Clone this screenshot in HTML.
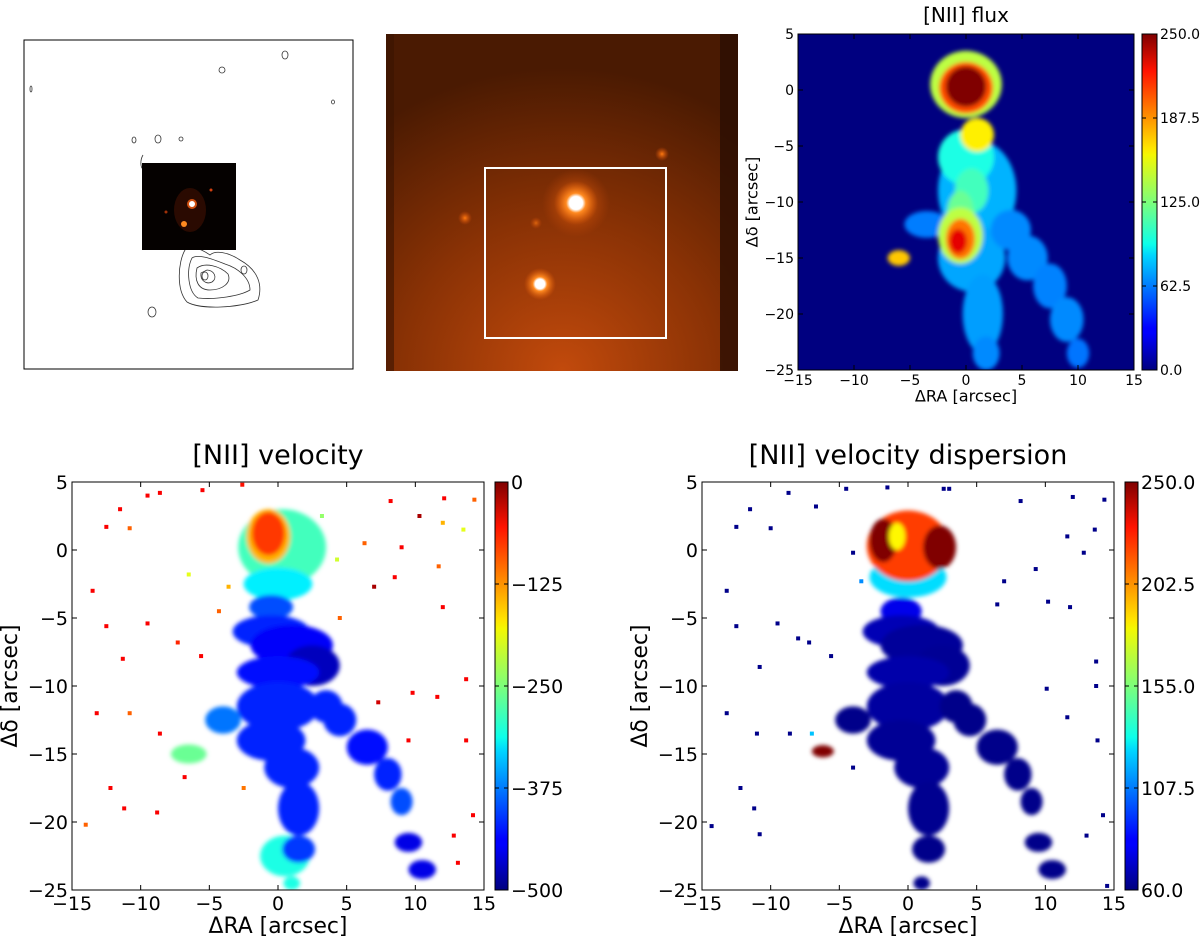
<!DOCTYPE html>
<html><head><meta charset="utf-8"><style>
body{margin:0;background:#fff;}
svg{display:block;font-family:"DejaVu Sans","Liberation Sans",sans-serif;}
</style></head><body>
<svg id="fig" width="1200" height="944" viewBox="0 0 1200 944" xmlns="http://www.w3.org/2000/svg">
<defs>
<linearGradient id="jet" x1="0" y1="1" x2="0" y2="0">
<stop offset="0" stop-color="#00007f"/><stop offset="0.11" stop-color="#0000ff"/><stop offset="0.125" stop-color="#0000ff"/>
<stop offset="0.34" stop-color="#00d4ff"/><stop offset="0.375" stop-color="#0dffea"/><stop offset="0.5" stop-color="#7dff7a"/>
<stop offset="0.64" stop-color="#f4f802"/><stop offset="0.66" stop-color="#ffe600"/><stop offset="0.89" stop-color="#ff1300"/>
<stop offset="1" stop-color="#7f0000"/></linearGradient>
<radialGradient id="mbg" cx="0.5" cy="1" r="0.9"><stop offset="0" stop-color="#c24a0c"/><stop offset="0.5" stop-color="#8a3205"/><stop offset="1" stop-color="#4a1a02"/></radialGradient>
<radialGradient id="star" cx="0.5" cy="0.5" r="0.5"><stop offset="0" stop-color="#fff"/><stop offset="0.3" stop-color="#fff"/><stop offset="0.45" stop-color="#ff8a20"/><stop offset="1" stop-color="#e05a08" stop-opacity="0"/></radialGradient>
<radialGradient id="glow" cx="0.5" cy="0.5" r="0.5"><stop offset="0" stop-color="#ff7a10"/><stop offset="1" stop-color="#d04a08" stop-opacity="0"/></radialGradient>
<filter id="bl" x="-20%" y="-20%" width="140%" height="140%"><feGaussianBlur stdDeviation="2.2"/></filter>
</defs>

<g>
<rect x="24" y="40" width="329" height="329" fill="#fff" stroke="#000" stroke-width="1"/>
<g fill="none" stroke="#333" stroke-width="0.8">
<ellipse cx="285" cy="55" rx="3" ry="4"/><ellipse cx="222" cy="70" rx="3" ry="3"/><ellipse cx="31" cy="89" rx="1" ry="3"/>
<ellipse cx="333" cy="102" rx="1.5" ry="2"/><ellipse cx="134" cy="140" rx="2" ry="3"/><ellipse cx="158" cy="139" rx="3" ry="4"/><ellipse cx="181" cy="139" rx="2" ry="2"/>
<ellipse cx="152" cy="312" rx="4" ry="5"/>
<path d="M185 250 C178 262 176 290 187 302 C200 310 240 308 258 300 C263 285 258 270 240 260 C228 252 215 250 210 255 C200 248 190 245 185 250Z"/>
<path d="M192 258 C186 270 188 292 198 298 C215 300 240 296 250 290 C250 278 238 268 225 264 C210 258 198 254 192 258Z"/>
<path d="M197 268 C194 280 198 290 210 290 C222 290 232 283 228 274 C220 266 205 262 197 268Z"/>
<path d="M201 273 C200 280 206 285 212 282 C218 278 214 270 207 270Z"/>
<ellipse cx="205" cy="276" rx="3" ry="4"/><ellipse cx="244" cy="270" rx="3" ry="4"/>
<path d="M143 155 C140 160 140 168 144 170"/>
</g>
<rect x="142" y="163" width="94" height="87" fill="#050100"/>
<ellipse cx="190" cy="210" rx="16" ry="22" fill="#2a0a01"/>
<circle cx="192" cy="204" r="4" fill="#fff" stroke="#d05010" stroke-width="2"/>
<circle cx="184" cy="224" r="3" fill="#ff8a20"/><circle cx="211" cy="190" r="1.5" fill="#d04010"/><circle cx="166" cy="212" r="1.5" fill="#a03008"/>
</g>

<g>
<rect x="386" y="34" width="352" height="337" fill="url(#mbg)"/>
<rect x="720" y="34" width="18" height="337" fill="#2a0e02" opacity="0.8"/>
<rect x="386" y="34" width="8" height="337" fill="#3a1402" opacity="0.6"/>
<circle cx="576" cy="203" r="34" fill="url(#glow)" opacity="0.8"/>
<circle cx="576" cy="203" r="22" fill="url(#star)"/>
<circle cx="540" cy="284" r="16" fill="url(#star)"/>
<circle cx="465" cy="218" r="7" fill="url(#glow)"/>
<circle cx="662" cy="154" r="7" fill="url(#glow)"/>
<circle cx="536" cy="223" r="6" fill="url(#glow)" opacity="0.7"/>
<rect x="485" y="168" width="181" height="170" fill="none" stroke="#fff" stroke-width="2"/>
</g>

<g id="maps"></g>
</svg>
<script>
const raTicks = [-15,-10,-5,0,5,10,15];
const decTicks = [5,0,-5,-10,-15,-20,-25];
// clumps: [dRA, dDec, radiusRA, radiusDec, value]
const fluxClumps = [
 [1,-9,3.5,4.5,75],[0.5,-15,3,3,72],[1.5,-20,1.8,3.5,70],[1.8,-23.5,1.2,1.5,65],[-3.5,-12,2,1.2,62],
 [4,-12.5,1.8,1.8,65],[5.5,-15,1.8,2,65],[7.5,-17.5,1.5,2,63],[9,-20.5,1.5,2,65],[10,-23.5,1,1.3,60],
 [0,-6,2.5,2.5,100],[0.5,-9,1.5,2,110],[-0.5,-11,1.2,2,120],
 [0,0.5,3.2,3,140],[1,-4,1.5,1.5,160],[0,0.2,2.4,2.3,200],[0,0.3,1.8,1.8,250],
 [-0.5,-13,2,2.5,140],[-0.5,-13.3,1.3,1.8,190],[-0.7,-13.5,0.8,1.1,225],[-6,-15,1,0.7,170]
];
const fluxTicks = [0,62.5,125,187.5,250];
const velClumps = [
 [0.5,-22.5,1.8,1.5,-300],[-6.5,-15,1.3,0.7,-260],[1,-24.5,0.6,0.5,-300],
 [0.3,0.2,3.2,2.8,-280],[0,-2.5,2.5,1.2,-320],[-0.5,-4.2,1.6,0.9,-400],
 [-0.5,-6,2.8,1.2,-420],[1,-7,3,1.5,-440],[2.5,-8.5,2,1.5,-470],[0,-9,3,1.2,-430],[0,-11.5,3,1.8,-420],
 [-0.5,-14,2.5,1.5,-420],[1,-16,2,1.5,-420],[1.5,-19,1.5,2,-420],[1.5,-22,1.2,1,-410],[-4,-12.5,1.3,1,-380],
 [3.5,-11.5,1.2,1.2,-420],[4.5,-12.5,1.2,1.2,-420],[6.5,-14.5,1.5,1.3,-430],[8,-16.5,1,1.2,-420],[9,-18.5,0.8,1,-400],
 [9.5,-21.5,1,0.7,-450],[10.5,-23.5,1,0.7,-450],
 [-0.7,1,1.6,2,-150],[-0.7,1.2,1.2,1.6,-90]
];
const velTicks = [0,-125,-250,-375,-500];
const dispClumps = [
 [-0.5,-4.5,1.5,1,80],
 [-0.5,-6,2.8,1.2,70],[1,-7,3,1.5,65],[2.5,-8.5,2,1.5,64],[0,-9,3,1.2,68],[0,-11.5,3,1.8,66],
 [-0.5,-14,2.5,1.5,64],[1,-16,2,1.5,64],[1.5,-19,1.5,2,63],[1.5,-22,1.2,1,62],[-4,-12.5,1.3,1,62],
 [3.5,-11.5,1.2,1.2,62],[4.5,-12.5,1.2,1.2,62],[6.5,-14.5,1.5,1.3,62],[8,-16.5,1,1.2,62],[9,-18.5,0.8,1,62],
 [9.5,-21.5,1,0.7,62],[10.5,-23.5,1,0.7,62],[1,-24.5,0.6,0.5,62],
 [0,-2,2.8,1.5,125],[0,0.3,3,2.6,215],[-1.8,0.7,1,1.6,250],[2.3,0.2,1.2,1.6,250],[-0.8,1,0.6,1,180],
 [-6.2,-14.8,0.8,0.45,250]
];
const dispTicks = [60,107.5,155,202.5,250];
// scattered isolated pixels: [dRA, dDec, value]
const velDots = [
 [-12.5,1.7,-60],[-11.5,3,-60],[-10.8,1.6,-110],[-9.5,4,-60],[-8.6,4.2,-60],[-5.5,4.4,-60],[-2.6,4.8,-70],
 [-13.5,-3,-60],[-12.5,-5.6,-60],[-9.5,-5.4,-60],[-11.3,-8,-60],[-7.3,-6.8,-80],[-5.6,-7.8,-60],
 [-13.2,-12,-60],[-10.8,-12,-110],[-8.6,-13.5,-60],[-12.2,-17.5,-60],[-11.2,-19,-60],[-8.8,-19.3,-60],
 [-14,-20.2,-110],[-6.8,-16.7,-60],[-2.5,-17.5,-120],[7.3,-11.2,-40],[9.5,-14,-60],[9.8,-10.5,-60],
 [11.6,-10.8,-60],[12,-4.2,-60],[13.7,-9.5,-60],[13.7,-14,-60],[14.2,-19.5,-60],[12.8,-21,-60],
 [8.2,3.6,-60],[10.3,2.5,-20],[12.1,3.8,-60],[14.3,3.7,-110],[6.3,0.5,-110],[9,0.2,-60],[11.7,-1.2,-110],
 [7,-2.7,-20],[8.5,-2,-60],[4.5,-5,-110],[13.1,-23,-60],[-4.3,-4.5,-110],[-3.6,-2.7,-150],[3.2,2.5,-240],
 [12,2,-150],[13.5,1.5,-200],[-6.5,-1.8,-200],[4.3,-0.7,-210]
];
const dispDots = [
 [-12.5,1.7,62],[-11.5,3,62],[-10,1.6,62],[-8.7,4.2,62],[-6.7,3.2,62],[-4.5,4.5,62],[-1.5,4.6,62],[3,4.5,62],
 [-13.2,-3,62],[-12.5,-5.6,62],[-9.5,-5.4,62],[-10.8,-8.6,62],[-7.2,-6.8,62],[-5.6,-7.8,62],[-8,-6.5,62],
 [-13.2,-12,62],[-11,-13.5,62],[-8.6,-13.5,62],[-12.2,-17.5,62],[-11.2,-19,62],[-14.3,-20.3,62],[-10.8,-20.9,62],
 [-4,-16,62],[7,-2.3,62],[9.3,-1.4,62],[8.2,3.6,62],[12,3.9,62],[14.3,3.7,62],[11.6,1,62],[13.6,1.5,62],
 [12.8,-0.2,62],[10.2,-3.8,62],[6.5,-4,62],[11.8,-4.2,62],[13.7,-8.2,62],[10.1,-10.2,62],[13.7,-10,62],
 [11.6,-12.3,62],[13.8,-14,62],[14.2,-19.5,62],[13,-21,62],[14.5,-24.7,62],[-3.4,-2.3,110],[-7,-13.5,120],
 [-4,-0.2,62],[2.6,4.5,62]
];

const NS='http://www.w3.org/2000/svg';
const root=document.getElementById('maps');
function jet(t){t=Math.max(0,Math.min(1,t));const c=v=>Math.round(255*Math.max(0,Math.min(1,v)));
 return 'rgb('+c(1.5-Math.abs(4*t-3))+','+c(1.5-Math.abs(4*t-2))+','+c(1.5-Math.abs(4*t-1))+')';}
function mk(tag,attrs,parent){const e=document.createElementNS(NS,tag);for(const k in attrs)e.setAttribute(k,attrs[k]);(parent||root).appendChild(e);return e;}
function fmt(v,dec){return (dec?v.toFixed(1):String(v)).replace('-','\u2212');}

function drawMap(cfg){
 const g=mk('g',{});
 
 
 const X=ra=>cfg.x0+(ra+15)/30*(cfg.x1-cfg.x0);
 const Y=de=>cfg.y0+(5-de)/30*(cfg.y1-cfg.y0);
 const T=v=>(v-cfg.vmin)/(cfg.vmax-cfg.vmin);
 const sx=(cfg.x1-cfg.x0)/30, sy=(cfg.y1-cfg.y0)/30;
 const cid='clip-'+cfg.name;
 const cp=mk('clipPath',{id:cid},g);mk('rect',{x:cfg.x0,y:cfg.y0,width:cfg.x1-cfg.x0,height:cfg.y1-cfg.y0},cp);
 mk('rect',{x:cfg.x0,y:cfg.y0,width:cfg.x1-cfg.x0,height:cfg.y1-cfg.y0,fill:cfg.bg},g);
 const inner=mk('g',{'clip-path':'url(#'+cid+')'},g);
 const blobs=mk('g',{filter:'url(#bl)'},inner);
 cfg.clumps.forEach(c=>{
  const e=mk('ellipse',{cx:X(c[0]),cy:Y(c[1]),rx:c[2]*sx,ry:c[3]*sy,fill:jet(T(c[4]))},blobs);
  
  
 });
 (cfg.dots||[]).forEach(d=>{
  const r=mk('rect',{x:X(d[0])-2,y:Y(d[1])-2,width:4,height:4,fill:jet(T(d[2]))},inner);
  
  
 });
 mk('rect',{x:cfg.x0,y:cfg.y0,width:cfg.x1-cfg.x0,height:cfg.y1-cfg.y0,fill:'none',stroke:'#000','stroke-width':1},g);
 raTicks.forEach(v=>{const x=X(v);
  mk('line',{x1:x,x2:x,y1:cfg.y1,y2:cfg.y1-5,stroke:'#000'},g);mk('line',{x1:x,x2:x,y1:cfg.y0,y2:cfg.y0+5,stroke:'#000'},g);
  const t=mk('text',{x:x,y:cfg.y1+cfg.fs+1,'font-size':cfg.fs,'text-anchor':'middle'},g);t.textContent=fmt(v);
  
  });
 decTicks.forEach(v=>{const y=Y(v);
  mk('line',{x1:cfg.x0,x2:cfg.x0+5,y1:y,y2:y,stroke:'#000'},g);mk('line',{x1:cfg.x1,x2:cfg.x1-5,y1:y,y2:y,stroke:'#000'},g);
  const t=mk('text',{x:cfg.x0-4,y:y+cfg.fs*0.36,'font-size':cfg.fs,'text-anchor':'end'},g);t.textContent=fmt(v);
  
  });
 const xt=mk('text',{x:(cfg.x0+cfg.x1)/2,y:cfg.y1+cfg.fs*2.25,'font-size':cfg.fs*1.15,'text-anchor':'middle'},g);xt.textContent='\u0394RA [arcsec]';
 
 
 const yx=cfg.x0-cfg.fs*2.9, ym=(cfg.y0+cfg.y1)/2;
 const yt=mk('text',{x:yx,y:ym,'font-size':cfg.fs*1.15,'text-anchor':'middle',transform:'rotate(-90 '+yx+' '+ym+')'},g);yt.textContent='\u0394\u03b4 [arcsec]';
 
 
 const tt=mk('text',{x:(cfg.x0+cfg.x1)/2,y:cfg.ty,'font-size':cfg.tfs,'text-anchor':'middle'},g);tt.textContent=cfg.title;
 
 
 const cb=mk('g',{},g);
 
 
 mk('rect',{x:cfg.cx,y:cfg.y0,width:cfg.cw,height:cfg.y1-cfg.y0,fill:'url(#jet)',stroke:'#000','stroke-width':1},cb);
 cfg.ticks.forEach(v=>{const y=cfg.y1-T(v)*(cfg.y1-cfg.y0);
  mk('line',{x1:cfg.cx,x2:cfg.cx+4,y1:y,y2:y,stroke:'#000'},cb);mk('line',{x1:cfg.cx+cfg.cw,x2:cfg.cx+cfg.cw-4,y1:y,y2:y,stroke:'#000'},cb);
  const t=mk('text',{x:cfg.cx+cfg.cw+3,y:y+cfg.fs*0.36,'font-size':cfg.fs},cb);t.textContent=fmt(v,cfg.dec);
  
  });
}

drawMap({name:'nii-flux-map',title:'[NII] flux',x0:798,x1:1134,y0:34,y1:370,cx:1142,cw:15,fs:14,tfs:20,ty:22,
 bg:jet(0),clumps:fluxClumps,dots:[],vmin:0,vmax:250,ticks:fluxTicks,dec:true});
drawMap({name:'nii-velocity-map',title:'[NII] velocity',x0:72,x1:484,y0:482,y1:890,cx:495,cw:13,fs:19,tfs:27,ty:464,
 bg:'#fff',clumps:velClumps,dots:velDots,vmin:-500,vmax:0,ticks:velTicks,dec:false});
drawMap({name:'nii-dispersion-map',title:'[NII] velocity dispersion',x0:702,x1:1114,y0:482,y1:890,cx:1125,cw:13,fs:19,tfs:27,ty:464,
 bg:'#fff',clumps:dispClumps,dots:dispDots,vmin:60,vmax:250,ticks:dispTicks,dec:true});
</script>
</body></html>
